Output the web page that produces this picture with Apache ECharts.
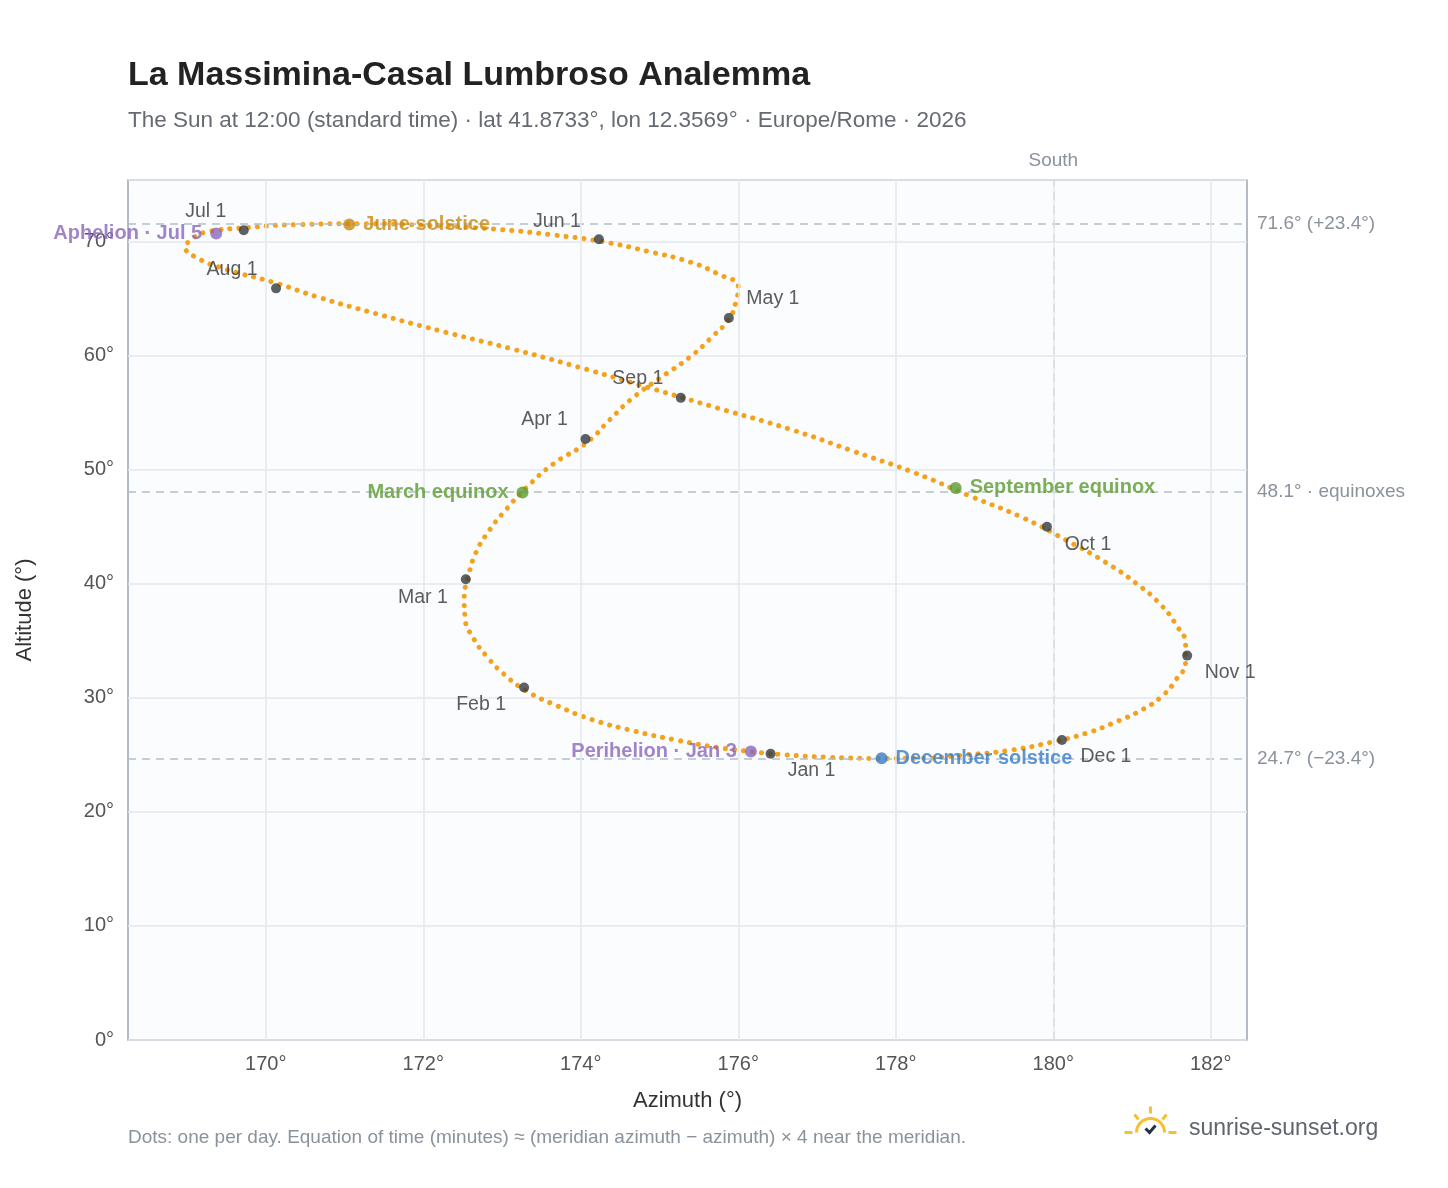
<!DOCTYPE html>
<html>
<head>
<meta charset="utf-8">
<script src="https://cdn.jsdelivr.net/npm/echarts@6/dist/echarts.min.js"></script>
<style>
  html, body { margin: 0; padding: 0; background: #fff; }
  #chart { width: 1448px; height: 1188px; }
</style>
</head>
<body>
<div id="chart"></div>
<script>
// ── Analemma data (~5-day steps) ──
const pathAz = [
  176.41, 175.79, 175.21, 174.67, 174.14, 173.70, 173.31, 173.02, 172.81, 172.63,
  172.53, 172.52, 172.57, 172.66, 172.82, 173.05, 173.32, 173.65, 174.08, 174.37,
  174.66, 175.02, 175.39, 175.66, 175.88, 175.97, 176.00, 175.73, 175.39, 174.88,
  174.27, 173.63, 172.90, 172.13, 171.22, 170.42, 169.72, 169.22, 169.06, 168.98,
  169.12, 169.48, 170.11, 170.68, 171.39, 172.20, 173.12, 173.97, 174.86, 175.74,
  176.68, 177.47, 178.25, 178.94, 179.61, 180.17, 180.66, 181.06, 181.36, 181.56,
  181.68, 181.68, 181.56, 181.39, 181.14, 180.80, 180.42, 179.97, 179.45, 178.89,
  178.28, 177.76, 177.12, 176.59, 176.41
];
const pathAlt = [
  25.1, 25.6, 26.3, 27.1, 28.1, 29.3, 30.6, 32.1, 33.6, 35.3,
  37.0, 38.8, 40.6, 42.6, 44.5, 46.5, 48.5, 50.5, 52.4, 54.4,
  56.3, 58.1, 59.9, 61.6, 63.2, 64.7, 66.0, 67.2, 68.2, 69.1,
  70.0, 70.6, 71.1, 71.4, 71.57, 71.5, 71.2, 70.8, 70.2, 69.5,
  68.6, 67.6, 66.4, 65.1, 63.7, 62.2, 60.6, 59.0, 57.2, 55.4,
  53.5, 51.6, 49.7, 47.7, 45.8, 43.8, 41.9, 40.0, 38.2, 36.4,
  34.7, 33.1, 31.6, 30.2, 29.0, 27.9, 26.9, 26.1, 25.4, 25.0,
  24.7, 24.69, 24.8, 25.0, 25.1
];

const monthNames = ['Jan 1', 'Feb 1', 'Mar 1', 'Apr 1', 'May 1', 'Jun 1', 'Jul 1', 'Aug 1', 'Sep 1', 'Oct 1', 'Nov 1', 'Dec 1'];
const monthAz = [176.41, 173.28, 172.54, 174.06, 175.88, 174.23, 169.72, 170.13, 175.27, 179.92, 181.70, 180.11];
const monthAlt = [25.1, 30.9, 40.4, 52.7, 63.3, 70.2, 71.0, 65.9, 56.3, 45.0, 33.7, 26.3];

const eventNames = ['June solstice', 'Aphelion · Jul 5', 'March equinox', 'September equinox', 'Perihelion · Jan 3', 'December solstice'];
const eventAz = [171.06, 169.37, 173.26, 178.76, 176.16, 177.82];
const eventAlt = [71.5, 70.7, 48.0, 48.4, 25.3, 24.7];

const refAlt = [71.6, 48.1, 24.7];
const refLabels = ['71.6° (+23.4°)', '48.1° · equinoxes', '24.7° (−23.4°)'];
const xTicks = [170, 172, 174, 176, 178, 180, 182];

// ── styles ──
const monthOffsets = [[41, 17], [-43, 17], [-43, 18], [-41, -19], [44, -19], [-42, -18],
  [-38, -19], [-44, -19], [-43, -19], [41, 18], [43, 17], [44, 17]];
const eventColors = ['#c98a10', '#8a66bb', '#5a9a30', '#5a9a30', '#8a66bb', '#3a7bc8'];
const eventSide = ['right', 'left', 'left', 'right', 'left', 'right'];
const FONT = 'Liberation Sans, Arial, sans-serif';

const chart = echarts.init(document.getElementById('chart'));

chart.setOption({
  backgroundColor: '#fff',
  textStyle: { fontFamily: FONT },
  title: [
    { text: 'La Massimina-Casal Lumbroso Analemma', left: 123, top: 54,
      textStyle: { fontSize: 34, fontWeight: 'bold', color: '#222', fontFamily: FONT } },
    { text: 'The Sun at 12:00 (standard time) · lat 41.8733°, lon 12.3569° · Europe/Rome · 2026', left: 123, top: 104,
      textStyle: { fontSize: 22.5, fontWeight: 'normal', color: '#666a73', fontFamily: FONT } },
    { text: 'Dots: one per day. Equation of time (minutes) ≈ (meridian azimuth − azimuth) × 4 near the meridian.', left: 123, top: 1123,
      textStyle: { fontSize: 19, fontWeight: 'normal', color: '#8a929c', fontFamily: FONT } },
    { text: 'sunrise-sunset.org', left: 1184, top: 1112,
      textStyle: { fontSize: 23, fontWeight: 'normal', color: '#5f6470', fontFamily: FONT } }
  ],
  grid: { left: 128, right: 201, top: 180, bottom: 148, backgroundColor: '#fbfcfe', show: true, borderColor: '#9aa5b1', borderWidth: 1.5 },
  xAxis: {
    type: 'value', min: 168.25, max: 182.46,
    name: 'Azimuth (°)', nameLocation: 'middle', nameGap: 50,
    nameTextStyle: { fontSize: 22, color: '#333' },
    axisLine: { show: false },
    axisTick: { show: false },
    splitLine: { show: false },
    axisLabel: { customValues: xTicks, formatter: v => v + '°', fontSize: 20, color: '#555', margin: 14 }
  },
  yAxis: {
    type: 'value', min: 0, max: 75.4, interval: 10,
    name: 'Altitude (°)', nameLocation: 'middle', nameGap: 92, nameRotate: 90,
    nameTextStyle: { fontSize: 22, color: '#333' },
    axisLine: { show: false },
    axisTick: { show: false },
    splitLine: { lineStyle: { color: '#e3e8ee', width: 1.5 } },
    axisLabel: { showMaxLabel: false, formatter: v => v + '°', fontSize: 20, color: '#555', margin: 14 }
  },
  graphic: [
    // sun logo
    { type: 'group', left: 1122, top: 1104, children: [
      { type: 'arc', shape: { cx: 26, cy: 26, r: 14, startAngle: Math.PI, endAngle: 2 * Math.PI, clockwise: true },
        style: { stroke: '#f5c12e', lineWidth: 3, fill: null } },
      { type: 'line', shape: { x1: 0, y1: 26, x2: 8, y2: 26 }, style: { stroke: '#f5c12e', lineWidth: 3 } },
      { type: 'line', shape: { x1: 44, y1: 26, x2: 52, y2: 26 }, style: { stroke: '#f5c12e', lineWidth: 3 } },
      { type: 'line', shape: { x1: 26, y1: 0, x2: 26, y2: 7 }, style: { stroke: '#f5c12e', lineWidth: 3 } },
      { type: 'line', shape: { x1: 10, y1: 8, x2: 14, y2: 13 }, style: { stroke: '#f5c12e', lineWidth: 3 } },
      { type: 'line', shape: { x1: 42, y1: 8, x2: 38, y2: 13 }, style: { stroke: '#f5c12e', lineWidth: 3 } },
      { type: 'polyline', shape: { points: [[21, 22], [25, 26], [31, 19]] }, style: { stroke: '#223348', lineWidth: 3, fill: null } }
    ] }
  ],
  series: [
    {
      type: 'line', silent: true, smooth: 0.5, showSymbol: false, z: 3,
      data: pathAz.map((a, i) => [a, pathAlt[i]]),
      lineStyle: { color: '#f4a21e', width: 5, type: [0.1, 9], cap: 'round' },
      markLine: {
        silent: true, symbol: 'none', animation: false,
        lineStyle: { color: '#b3bec9', type: [8, 6], width: 1.5 },
        label: { position: 'end', color: '#8a929c', fontSize: 19, distance: 10 },
        data: refAlt.map((y, i) => ({ yAxis: y, label: { formatter: refLabels[i] } }))
          .concat([{ xAxis: 180, lineStyle: { color: '#a9b9c6' }, label: { formatter: 'South', position: 'end', distance: 10 } }])
      }
    },
    {
      // vertical grid lines at azimuth ticks
      type: 'line', silent: true, data: [], z: 1,
      markLine: {
        silent: true, symbol: 'none', animation: false, label: { show: false },
        lineStyle: { color: '#e3e8ee', type: 'solid', width: 1.5 },
        data: xTicks.map(x => ({ xAxis: x }))
      }
    },
    {
      type: 'scatter', symbolSize: 10, z: 5,
      itemStyle: { color: '#343a40' },
      data: monthNames.map((n, i) => ({
        value: [monthAz[i], monthAlt[i]], name: n,
        label: { show: true, position: 'inside', offset: monthOffsets[i], formatter: n, color: '#333', fontSize: 19.5 }
      }))
    },
    {
      type: 'scatter', symbolSize: 12, z: 6,
      data: eventNames.map((n, i) => ({
        value: [eventAz[i], eventAlt[i]], name: n,
        itemStyle: { color: eventColors[i] },
        label: { show: true, position: eventSide[i], distance: 8, formatter: n,
          color: eventColors[i], fontSize: 20, fontWeight: 'bold' }
      }))
    }
  ]
});
</script>
</body>
</html>
